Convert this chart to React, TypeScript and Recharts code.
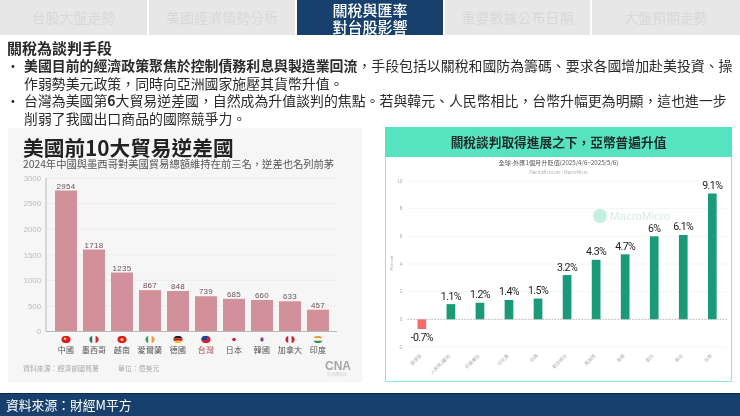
import { Bar, BarChart, CartesianGrid, Cell, ComposedChart, LabelList, Line, ReferenceLine, XAxis, YAxis } from "recharts"

const tabs = ["台股大盤走勢", "美國經濟情勢分析", "關稅與匯率\n對台股影響", "重要數據公布日期", "大盤預期走勢"]

const partners = ["中國", "墨西哥", "越南", "愛爾蘭", "德國", "台灣", "日本", "韓國", "加拿大", "印度"]
const deficits = [2954, 1718, 1235, 867, 848, 739, 685, 660, 633, 457]
const deficitTicks = [0, 500, 1000, 1500, 2000, 2500, 3000]

const currencies = ["菲律賓", "人民幣(離岸)", "印度盧比", "印尼盾", "日圓", "新加坡元", "馬來幣", "泰銖", "歐元", "韓元", "台幣"]
const moves = [-0.7, 1.1, 1.2, 1.4, 1.5, 3.2, 4.3, 4.7, 6, 6.1, 9.1]
const moveTicks = [-2, 0, 2, 4, 6, 8, 10]

const deficitData = partners.map((name, i) => ({ name, total: deficits[i] }))
const moveData = currencies.map((name, i) => ({ name, move: moves[i] }))

const CJK = '"Noto Sans CJK TC", "Noto Sans", sans-serif'
const NAVY = "#17406d"

function Flag({ name, x, y }: { name: string; x: number; y: number }) {
  const id = `flag-${Math.round(x)}`
  const w = 9.5
  const h = 7.5
  const left = x - w / 2
  const top = y - h / 2
  let body = null
  if (name === "中國") {
    body = <><rect x={left} y={top} width={w} height={h} fill="#d9202a" /><circle cx={x - 1} cy={y - 0.7} r={1.2} fill="#f5d142" /></>
  } else if (name === "墨西哥" || name === "愛爾蘭" || name === "加拿大") {
    const c = name === "墨西哥" ? ["#1f7a4d", "#f4f4f4", "#cf2b36"] : name === "愛爾蘭" ? ["#3f9c5a", "#f6f6f6", "#ee9a3d"] : ["#cf2030", "#f8f8f8", "#cf2030"]
    body = c.map((col, i) => <rect key={i} x={left + (i * w) / 3} y={top} width={w / 3 + 0.1} height={h} fill={col} />)
  } else if (name === "越南") {
    body = <><rect x={left} y={top} width={w} height={h} fill="#d9202a" /><circle cx={x} cy={y} r={1.6} fill="#f5d142" /></>
  } else if (name === "德國" || name === "印度") {
    const c = name === "德國" ? ["#222", "#c9202a", "#f0c22e"] : ["#ec9a3e", "#f6f6f6", "#3b8f4c"]
    body = c.map((col, i) => <rect key={i} x={left} y={top + (i * h) / 3} width={w} height={h / 3 + 0.1} fill={col} />)
  } else if (name === "台灣") {
    body = <><rect x={left} y={top} width={w} height={h} fill="#cf2030" /><rect x={left} y={top} width={w / 2 + 1} height={h / 2 + 0.5} fill="#233e8b" /></>
  } else if (name === "日本") {
    body = <><rect x={left} y={top} width={w} height={h} fill="#f7f7f7" /><circle cx={x} cy={y} r={1.8} fill="#c9203a" /></>
  } else {
    body = <><rect x={left} y={top} width={w} height={h} fill="#f4f4f4" /><circle cx={x} cy={y - 0.5} r={1.7} fill="#c9405a" /><circle cx={x} cy={y + 0.7} r={1.3} fill="#3a5a9a" /></>
  }
  return (
    <g>
      <clipPath id={id}><ellipse cx={x} cy={y} rx={w / 2} ry={h / 2} /></clipPath>
      <g clipPath={`url(#${id})`}>{body}</g>
    </g>
  )
}

function PartnerTick({ x, y, payload }: any) {
  return (
    <g>
      <Flag name={payload.value} x={x} y={y} />
      <text x={x} y={y + 13} textAnchor="middle" fontSize={8} fontFamily={CJK} fill={payload.value === "台灣" ? "#a8434f" : "#555"} letterSpacing={0.2}>
        {payload.value}
      </text>
    </g>
  )
}

function CurrencyTick({ x, y, payload }: any) {
  return (
    <text x={x} y={y + 1} textAnchor="end" fontSize={4.6} fontFamily={CJK} fill="#aaa" transform={`rotate(-45 ${x} ${y + 1})`}>
      {payload.value}
    </text>
  )
}

function DeficitChart() {
  return (
    <ComposedChart width={354} height={254} data={deficitData} margin={{ top: 50, right: 25, bottom: 0, left: 0 }} barSize={22}>
      <CartesianGrid yAxisId="ticks" vertical={false} stroke="#eaeaea" strokeWidth={0.8} />
      <XAxis dataKey="name" height={50.5} interval={0} tickLine={false} axisLine={{ stroke: "#b8b8b8" }} padding={{ left: 6, right: 5 }} tick={<PartnerTick />} />
      <YAxis yAxisId="ticks" width={38} domain={[0, 3000]} ticks={deficitTicks} interval={0} tickLine={false} tickSize={0} axisLine={{ stroke: "#b8b8b8" }} tickMargin={5} tick={{ fontSize: 7.8, fill: "#bbb", fontFamily: "Liberation Sans" }} />
      {/* bars in the source sit a bit lower than the printed axis, so they get their own scale */}
      <YAxis yAxisId="bars" orientation="right" width={0} hide domain={[0, 3217]} />
      <Bar yAxisId="bars" dataKey="total" fill="#d2919a" isAnimationActive={false}>
        <LabelList dataKey="total" position="top" offset={2} fontSize={8} fill="#6e5256" fontFamily="Liberation Sans" letterSpacing={0.3} />
      </Bar>
      {/* the printed axis only gets ticks with a series on it; this one draws nothing */}
      <Line yAxisId="ticks" dataKey="total" stroke="none" dot={false} activeDot={false} legendType="none" isAnimationActive={false} />
    </ComposedChart>
  )
}

function MoveChart() {
  return (
    <BarChart width={345} height={223} data={moveData} margin={{ top: 23, right: 4, bottom: 0, left: 0 }} barSize={8.7}>
      <CartesianGrid vertical={false} stroke="#f1f1f1" strokeWidth={0.8} />
      <XAxis dataKey="name" height={34} interval={0} tickLine={false} axisLine={false} tick={<CurrencyTick />} />
      <YAxis width={21.5} domain={[-2, 10]} ticks={moveTicks} interval={0} tickLine={false} tickSize={0} axisLine={false} tickMargin={5} tick={{ fontSize: 4.8, fill: "#aaa", fontFamily: "Liberation Sans" }} />
      <ReferenceLine y={0} stroke="#aaa" strokeDasharray="1.5 1.5" strokeWidth={0.8} />
      <Bar dataKey="move" fill="#1a9a78" isAnimationActive={false}>
        {moves.map((v, i) => (
          <Cell key={i} fill={v < 0 ? "#f26c6c" : "#1a9a78"} />
        ))}
        <LabelList dataKey="move" position="top" offset={4.5} formatter={(v: any) => `${v}%`} fontSize={10.6} fill="#222" fontFamily="Roboto" letterSpacing={-0.6} />
      </Bar>
    </BarChart>
  )
}

const abs = (left: number, top: number, extra: any = {}) => ({ position: "absolute", left, top, whiteSpace: "nowrap", ...extra }) as any

export default function App() {
  const tabLefts = [0, 149, 297, 445, 592]
  const tabWidths = [147, 146, 146, 145, 148]
  return (
    <div style={{ position: "absolute", left: 0, top: 0, width: 740, height: 416, background: "#fff", overflow: "hidden", fontFamily: CJK, color: "#2a2a2a", filter: "blur(0.3px)" }}>
      {tabs.map((t, i) => {
        const active = i === 2
        return (
          <div key={t} style={abs(tabLefts[i], 0, { width: tabWidths[i], height: 35, background: active ? NAVY : "#e7e7e7", color: active ? "#fff" : "#d8d8d8", fontSize: active ? 15 : 14, fontWeight: active ? 500 : 400, lineHeight: "17px", textAlign: "center", display: "flex", alignItems: "center", justifyContent: "center", whiteSpace: "pre" })}>
            {t}
          </div>
        )
      })}

      <div style={abs(7, 39, { fontSize: 15, fontWeight: 700, lineHeight: "18px" })}>關稅為談判手段</div>
      <div style={abs(6, 57, { fontSize: 13.9, lineHeight: "17.5px" })}>•</div>
      <div style={abs(24, 57, { fontSize: 13.9, lineHeight: "17.5px" })}>
        <b>美國目前的經濟政策聚焦於控制債務利息與製造業回流</b>，手段包括以關稅和國防為籌碼、要求各國增加赴美投資、操
        <br />
        作弱勢美元政策，同時向亞洲國家施壓其貨幣升值。
      </div>
      <div style={abs(6, 92, { fontSize: 13.9, lineHeight: "17.5px" })}>•</div>
      <div style={abs(24, 92, { fontSize: 13.9, lineHeight: "17.5px" })}>
        台灣為美國第<b>6</b>大貿易逆差國，自然成為升值談判的焦點。若與韓元、人民幣相比，台幣升幅更為明顯，這也進一步
        <br />
        削弱了我國出口商品的國際競爭力。
      </div>

      {/* left panel */}
      <div style={abs(8, 128, { width: 354, height: 254, background: "#f6f6f6" })}>
        <DeficitChart />
      </div>
      <div style={abs(23, 137, { fontSize: 20.7, fontWeight: 700, lineHeight: "21px", color: "#222" })}>美國前10大貿易逆差國</div>
      <div style={abs(23, 158, { fontSize: 10.3, lineHeight: "12px", color: "#555" })}>2024年中國與墨西哥對美國貿易總額維持在前三名，逆差也名列前茅</div>
      <div style={abs(23, 363, { fontSize: 6.9, lineHeight: "10px", color: "#aaa" })}>資料來源：經濟部國貿署</div>
      <div style={abs(118, 363, { fontSize: 6.9, lineHeight: "10px", color: "#aaa" })}>單位：億美元</div>
      <div style={abs(325, 360, { fontSize: 12, fontWeight: 700, lineHeight: "12px", color: "#a5a9ab", fontFamily: "Liberation Sans" })}>CNA</div>
      <div style={abs(327, 372, { fontSize: 4, lineHeight: "5px", color: "#ccc" })}>中央通訊社</div>

      {/* right panel */}
      <div style={abs(385, 127, { width: 347, height: 255, boxSizing: "border-box", border: "1.5px solid #8fe8d2", background: "#fff" })} />
      <div style={abs(385, 127, { width: 347, height: 30, background: "#56e3bf", fontSize: 12.7, fontWeight: 700, lineHeight: "30px", textAlign: "center", color: "#1d2a2a" })}>
        關稅談判取得進展之下，亞幣普遍升值
      </div>
      <div style={abs(386, 158)}>
        <MoveChart />
      </div>
      <div style={abs(385, 158, { width: 347, textAlign: "center", fontSize: 6.2, lineHeight: "9px", color: "#555" })}>全球-外匯1個月升貶值(2025/4/6~2025/5/6)</div>
      <div style={abs(385, 169, { width: 347, textAlign: "center", fontSize: 4.4, lineHeight: "6px", color: "#aaa" })}>MacroMicro.me | MacroMicro</div>
      <div style={abs(593, 209, { width: 14, height: 14, borderRadius: 7, background: "#c4efe3" })} />
      <div style={abs(610, 208, { fontSize: 11.5, lineHeight: "16px", color: "#d3ece5", fontFamily: "Liberation Sans" })}>MacroMicro</div>
      <div style={abs(384, 260, { fontSize: 4.4, lineHeight: "6px", color: "#aaa", transform: "rotate(-90deg)", fontFamily: "Liberation Sans" })}>Percent</div>

      {/* footer */}
      <div style={abs(0, 393, { width: 740, height: 23, background: NAVY, borderTop: "1px solid #0c2a4a", boxSizing: "border-box", color: "#fff", fontSize: 12.8, lineHeight: "22px", paddingLeft: 6 })}>
        資料來源：財經M平方
      </div>
    </div>
  )
}
